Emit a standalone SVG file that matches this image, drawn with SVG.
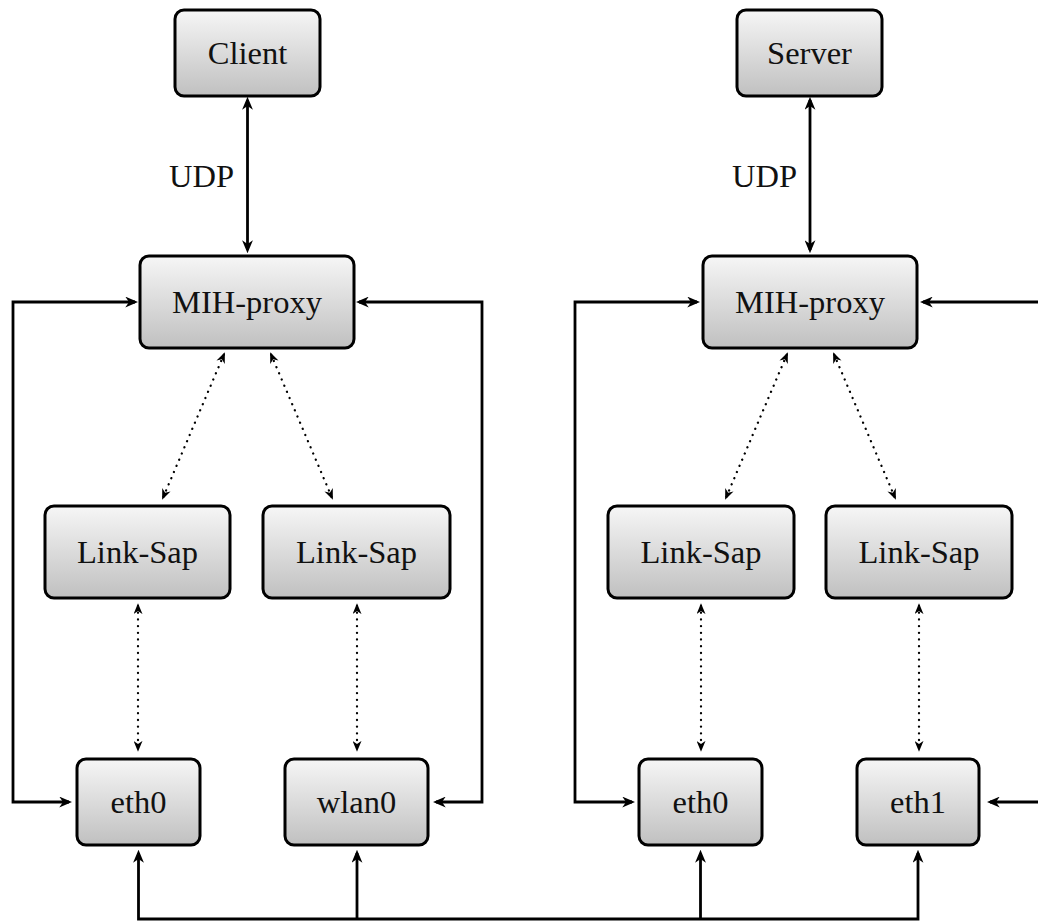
<svg xmlns="http://www.w3.org/2000/svg" width="1038" height="922" viewBox="0 0 1038 922">
<style>
.box{fill:url(#g);stroke:#000;stroke-width:3}
.lbl{font-family:"Liberation Serif","Times New Roman",serif;font-size:32.5px;fill:#111;text-anchor:middle}
.udp{font-family:"Liberation Serif","Times New Roman",serif;font-size:32.5px;fill:#111;text-anchor:end}
.solid{fill:none;stroke:#000;stroke-width:2.8;stroke-linejoin:miter}
.arr{marker-end:url(#ah)}
.arr2{marker-start:url(#ah);marker-end:url(#ah)}
.dot{fill:none;stroke:#000;stroke-width:2.3;stroke-linecap:round;stroke-dasharray:0.1 6.6;marker-start:url(#ahs);marker-end:url(#ahs)}
</style>
<defs>
<linearGradient id="g" x1="0" y1="0" x2="0" y2="1">
<stop offset="0" stop-color="#f6f6f6"/>
<stop offset="1" stop-color="#c0c0c0"/>
</linearGradient>
<marker id="ah" viewBox="0 0 12 10" refX="9" refY="5" markerWidth="13" markerHeight="11" markerUnits="userSpaceOnUse" orient="auto-start-reverse">
<path d="M0,0 L12,5 L0,10 L3.5,5 z" fill="#000"/>
</marker>
<marker id="ahs" viewBox="0 0 12 10" refX="9" refY="5" markerWidth="11" markerHeight="9" markerUnits="userSpaceOnUse" orient="auto-start-reverse">
<path d="M0,0 L12,5 L0,10 L3.5,5 z" fill="#000"/>
</marker>
</defs>
<g id="connectors">
<path class="solid arr2" d="M247.5,100 V250"/>
<path class="solid arr2" d="M810,100 V250"/>
<text class="udp" x="234" y="187">UDP</text>
<text class="udp" x="797" y="187">UDP</text>
<path class="solid arr2" d="M69,802 H13 V302 H135"/>
<path class="solid arr2" d="M436,802 H482 V302 H359"/>
<path class="solid arr2" d="M632,802 H575 V302 H697"/>
<path class="solid arr" d="M1045,302 H923"/>
<path class="solid arr" d="M1045,802 H990"/>
<path class="solid arr2" d="M138.5,853 V919 H918 V853"/>
<path class="solid arr" d="M357,919 V853"/>
<path class="solid arr" d="M700.5,919 V853"/>
<path class="dot" d="M223.8,354.8 L163.2,497.2"/>
<path class="dot" d="M271.2,354.8 L331.8,497.2"/>
<path class="dot" d="M786.8,354.8 L726.2,497.2"/>
<path class="dot" d="M834.2,354.8 L894.8,497.2"/>
<path class="dot" d="M138,606 V749"/>
<path class="dot" d="M357,606 V749"/>
<path class="dot" d="M701,606 V749"/>
<path class="dot" d="M919,606 V749"/>
</g>
<g id="client"><rect class="box" x="175" y="10" width="145" height="86" rx="9"/><text class="lbl" x="247.5" y="64">Client</text></g>
<g id="server"><rect class="box" x="737" y="10" width="145" height="86" rx="9"/><text class="lbl" x="809.5" y="64">Server</text></g>
<g id="mih-left"><rect class="box" x="140" y="256" width="214" height="92" rx="9"/><text class="lbl" x="247" y="313">MIH-proxy</text></g>
<g id="mih-right"><rect class="box" x="703" y="256" width="214" height="92" rx="9"/><text class="lbl" x="810" y="313">MIH-proxy</text></g>
<g id="linksap1"><rect class="box" x="45" y="506" width="185" height="92" rx="9"/><text class="lbl" x="137.5" y="563">Link-Sap</text></g>
<g id="linksap2"><rect class="box" x="263" y="506" width="187" height="92" rx="9"/><text class="lbl" x="356.5" y="563">Link-Sap</text></g>
<g id="linksap3"><rect class="box" x="608" y="506" width="186" height="92" rx="9"/><text class="lbl" x="701" y="563">Link-Sap</text></g>
<g id="linksap4"><rect class="box" x="826" y="506" width="186" height="92" rx="9"/><text class="lbl" x="919" y="563">Link-Sap</text></g>
<g id="eth0-left"><rect class="box" x="77" y="759" width="123" height="86" rx="9"/><text class="lbl" x="138.5" y="813">eth0</text></g>
<g id="wlan0"><rect class="box" x="285" y="759" width="143" height="86" rx="9"/><text class="lbl" x="356.5" y="813">wlan0</text></g>
<g id="eth0-right"><rect class="box" x="639" y="759" width="123" height="86" rx="9"/><text class="lbl" x="700.5" y="813">eth0</text></g>
<g id="eth1"><rect class="box" x="857" y="759" width="122" height="86" rx="9"/><text class="lbl" x="918" y="813">eth1</text></g>
</svg>
